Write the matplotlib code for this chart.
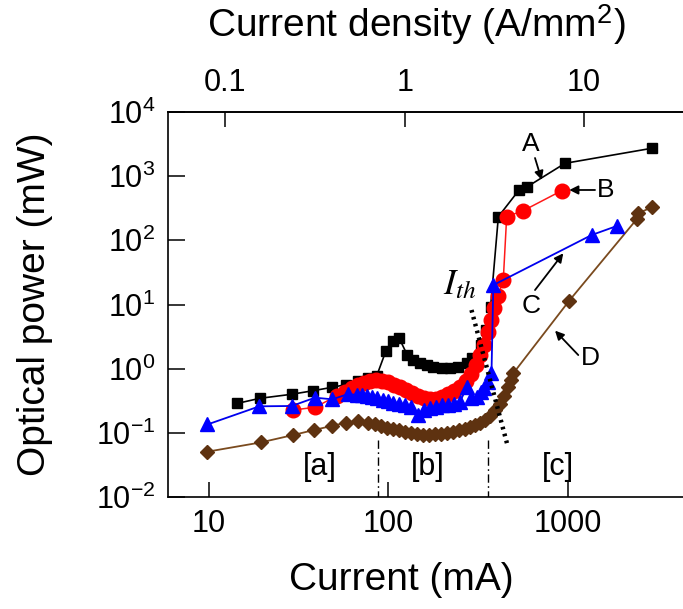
import matplotlib
matplotlib.use("Agg")
import matplotlib.pyplot as plt
from matplotlib.ticker import NullLocator, FixedLocator

plt.rcParams["font.family"] = ["Liberation Sans", "DejaVu Sans"]
plt.rcParams["mathtext.fontset"] = "stix"

# ---- measured L-I data (current in mA, optical power in mW) ----
A_current = [14.4, 19.2, 28.9, 38.2, 48.7, 57.9, 68.0, 77.3, 86.1, 97.1, 106.6,
             115.1, 127.6, 137.8, 150.3, 163.7, 178.2, 198.6, 220.8, 245.6, 273.6,
             293, 329, 351, 372, 411, 536, 596, 967, 2944]
A_power = [0.288, 0.345, 0.399, 0.454, 0.513, 0.563, 0.650, 0.708, 0.769, 1.91, 2.73,
           2.97, 1.63, 1.37, 1.21, 1.14, 1.07, 1.03, 1.01, 1.07, 1.21,
           1.47, 2.34, 4.0, 9.24, 234, 609, 685, 1585, 2718]

B_current = [29.5, 39.0, 51.5, 57.3, 62.7, 67.8, 73.2, 79.1, 85.4, 92.2, 99.6, 107.6,
             116.2, 125.5, 135.6, 146.5, 158.2, 170.9, 184.5, 199.3, 215.3, 232.5,
             251.1, 271.2, 289.3, 308.4, 324.5, 341.7, 359.7, 374.1, 388.7, 409.0,
             437.8, 457.3, 566, 927]
B_power = [0.227, 0.250, 0.375, 0.433, 0.500, 0.557, 0.598, 0.631, 0.655, 0.643, 0.610,
           0.566, 0.518, 0.465, 0.418, 0.375, 0.349, 0.336, 0.341, 0.362, 0.403, 0.449,
           0.518, 0.643, 0.826, 1.14, 1.63, 2.34, 3.73, 5.74, 8.82, 13.6,
           24.1, 234, 290, 594]

C_current = [9.8, 19.1, 28.9, 39.0, 48.7, 59.8, 66.6, 71.3, 76.0, 81.1, 86.5, 93.3,
             99.6, 106.6, 114.7, 123.9, 133.8, 146.5, 158.2, 170.9, 184.5, 199.3,
             215.3, 232.5, 251.1, 273.6, 289.3, 311.2, 328.8, 341.7, 359.7, 376.3,
             385.2, 1362, 1878]
C_power = [0.135, 0.259, 0.262, 0.353, 0.333, 0.403, 0.389, 0.382, 0.375, 0.362, 0.343,
           0.325, 0.308, 0.287, 0.277, 0.272, 0.253, 0.190, 0.227, 0.244, 0.257, 0.267,
           0.272, 0.282, 0.303, 0.513, 0.349, 0.366, 0.433, 0.500, 0.620, 0.857,
           20.1, 121, 167]

D_current = [9.78, 19.4, 29.5, 38.7, 48.3, 57.9, 68.0, 77.3, 84.3, 91.0, 98.4, 106.2,
             114.7, 123.9, 133.8, 144.5, 156.1, 168.6, 182.1, 196.7, 212.4, 229.4,
             247.8, 267.6, 285.6, 304.5, 324.5, 346.1, 369.1, 393.6, 419.8, 441.7,
             465.6, 483.2, 497.8, 1022, 2428, 2478, 2944]
D_power = [0.0508, 0.0708, 0.0925, 0.111, 0.128, 0.144, 0.153, 0.142, 0.135, 0.128,
           0.121, 0.115, 0.109, 0.103, 0.0977, 0.0942, 0.0925, 0.0925, 0.0942, 0.096,
           0.0995, 0.103, 0.109, 0.115, 0.123, 0.132, 0.142, 0.158, 0.183, 0.227,
           0.282, 0.375, 0.518, 0.667, 0.847, 11.5, 213, 264, 327]

# threshold guide line and regime boundaries
ith_current = [291, 459]
ith_power = [8.21, 0.0687]
regime_bounds = [87.9, 362]
regime_labels = ["[a]", "[b]", "[c]"]
regime_label_current = [41.6, 166, 881]

x_ticks = [10, 100, 1000]
x_tick_labels = ["10", "100", "1000"]
y_ticks = [1e-2, 1e-1, 1e0, 1e1, 1e2, 1e3, 1e4]
y_tick_labels = [r"$\mathregular{10^{-2}}$", r"$\mathregular{10^{-1}}$",
                 r"$\mathregular{10^{0}}$", r"$\mathregular{10^{1}}$",
                 r"$\mathregular{10^{2}}$", r"$\mathregular{10^{3}}$",
                 r"$\mathregular{10^{4}}$"]
j_ticks = [0.1, 1, 10]
j_tick_labels = ["0.1", "1", "10"]
current_per_density = 123.5   # mA per (A/mm^2), i.e. emitting area 0.1235 mm^2

W, H = 683, 609
fig = plt.figure(figsize=(W / 100, H / 100), dpi=100)
ax = fig.add_axes([168 / W, (H - 497) / H, (W - 168) / W, (497 - 112) / H])
ax.set_xscale("log")
ax.set_yscale("log")
ax.set_xlim(5.905, 4402)
ax.set_ylim(1e-2, 1e4)

brown_mk = "#5e3210"
brown_ln = "#7a4a1e"

ax.plot(D_current, D_power, "-", color=brown_ln, lw=1.3, marker="D", ms=6.8,
        mfc=brown_mk, mec=brown_mk, zorder=3)
ax.plot(A_current, A_power, "-", color="black", lw=1.2, marker="s", ms=7.8,
        mfc="black", mec="black", zorder=4)
ax.plot(B_current, B_power, "-", color="#ff1a1a", lw=1.1, marker="o", ms=10.5,
        mfc="#ff0000", mec="#ff0000", zorder=5)
ax.plot(C_current, C_power, "-", color="#0000ee", lw=1.3, marker="^", ms=10.5,
        mfc="#0000ff", mec="#0000ff", zorder=6)

ax.plot(ith_current, ith_power, color="black", lw=3.2, ls=(0, (0.6, 1.0)), zorder=7)
ax.text(251, 20.1, r"$I_{th}$", fontsize=26, ha="center", va="center", zorder=8)

for xb in regime_bounds:
    ax.plot([xb, xb], [0.0774, 0.01], color="black", lw=1.0,
            ls=(0, (6, 2.5, 1.2, 2.5)), zorder=2)
for lab, xc in zip(regime_labels, regime_label_current):
    ax.text(xc, 0.0294, lab, fontsize=22, ha="center", va="center")

arrow_kw = dict(arrowstyle="-|>", color="black", lw=1.3, mutation_scale=13,
                shrinkA=0, shrinkB=0)
ax.annotate("", xy=(717, 871), xytext=(658, 1919), arrowprops=arrow_kw, zorder=9)
ax.text(625, 3170, "A", fontsize=19, ha="center", va="center")
ax.annotate("", xy=(1022, 609), xytext=(1422, 609), arrowprops=arrow_kw, zorder=9)
ax.text(1640, 609, "B", fontsize=19, ha="center", va="center")
ax.annotate("", xy=(946, 62.8), xytext=(658, 16.8), arrowprops=arrow_kw, zorder=9)
ax.text(622, 9.48, "C", fontsize=19, ha="center", va="center")
ax.annotate("", xy=(851, 3.91), xytext=(1147, 1.63), arrowprops=arrow_kw, zorder=9)
ax.text(1333, 1.45, "D", fontsize=19, ha="center", va="center")

ax.xaxis.set_major_locator(FixedLocator(x_ticks))
ax.set_xticklabels(x_tick_labels)
ax.xaxis.set_minor_locator(NullLocator())
ax.yaxis.set_major_locator(FixedLocator(y_ticks))
ax.set_yticklabels(y_tick_labels)
ax.yaxis.set_minor_locator(NullLocator())
ax.tick_params(axis="x", which="major", direction="in", length=10.5, width=1.1,
               labelsize=22, pad=9, top=False)
ax.tick_params(axis="y", which="major", direction="in", length=12.5, width=1.1,
               labelsize=22, pad=9)
for side in ("left", "bottom", "top"):
    ax.spines[side].set_linewidth(1.2)
ax.spines["right"].set_visible(False)

sec = ax.secondary_xaxis("top", functions=(lambda i: i / current_per_density,
                                           lambda j: j * current_per_density))
sec.xaxis.set_major_locator(FixedLocator(j_ticks))
sec.set_xticklabels(j_tick_labels)
sec.xaxis.set_minor_locator(NullLocator())
sec.tick_params(axis="x", direction="in", length=10.5, width=1.1, labelsize=22, pad=10)
sec.spines["top"].set_linewidth(1.2)

fig.text(401 / W, 1 - 580 / H, "Current (mA)", fontsize=28, ha="center", va="center")
fig.text(416 / W, 1 - 25 / H, "Current density (A/mm$^\\mathregular{2}$)", fontsize=28,
         ha="center", va="center")
fig.text(35 / W, 1 - 304 / H, "Optical power (mW)", fontsize=28, rotation=90,
         ha="center", va="center")

fig.savefig("out.png", dpi=100)
